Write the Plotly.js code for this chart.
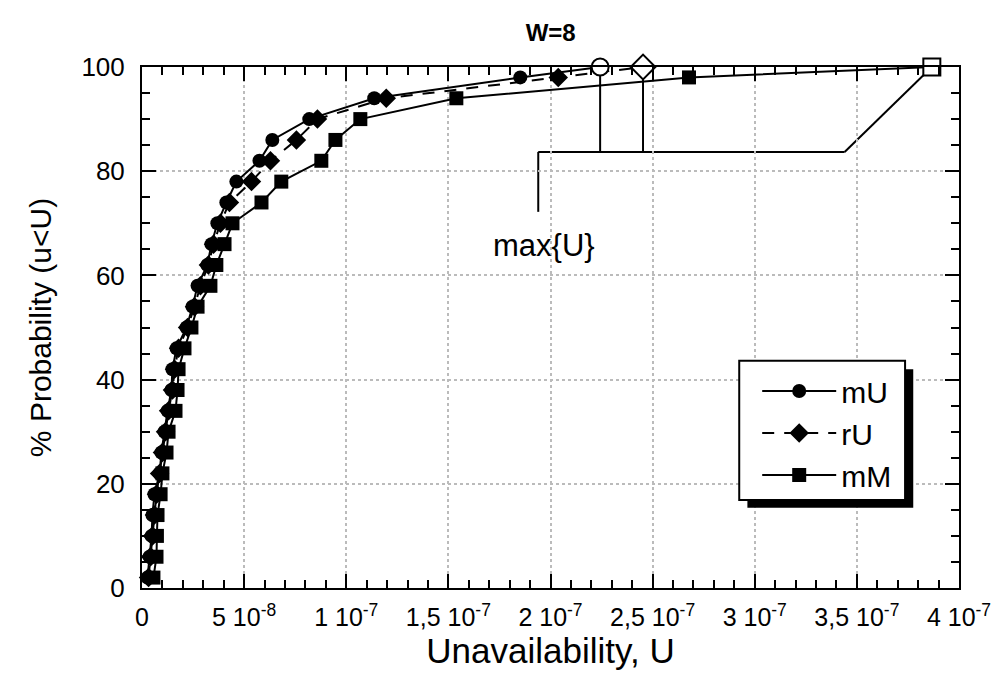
<!DOCTYPE html>
<html>
<head>
<meta charset="utf-8">
<script src="https://cdn.plot.ly/plotly-3.0.1.min.js"></script>
<style>
html,body{margin:0;padding:0;background:#fff;}
#chart{width:994px;height:673px;}
</style>
</head>
<body>
<div id="chart"></div>
<script>
// Cumulative probability levels (%) of the sorted samples
var probLevels = [2,6,10,14,18,22,26,30,34,38,42,46,50,54,58,62,66,70,74,78,82,86,90,94,98];
// Unavailability values (units of 1e-8)
var mU = [0.27,0.37,0.47,0.51,0.61,0.86,0.95,1.10,1.25,1.44,1.49,1.69,2.18,2.47,2.72,3.20,3.40,3.69,4.13,4.62,5.75,6.38,8.19,11.37,18.52];
var rU = [0.32,0.42,0.51,0.61,0.71,0.86,1.00,1.15,1.30,1.49,1.59,1.79,2.23,2.57,2.86,3.25,3.50,3.84,4.28,5.36,6.29,7.56,8.59,11.96,20.38];
var mM = [0.56,0.71,0.73,0.76,0.91,1.00,1.20,1.30,1.64,1.74,1.79,2.08,2.42,2.72,3.35,3.64,4.04,4.43,5.85,6.82,8.78,9.47,10.69,15.39,26.78];
// max{U} of each series (units of 1e-8), plotted at 100 %
var maxU = {mU: 22.43, rU: 24.53, mM: 38.67};
var maxProb = 100;
// x-axis tick labels
var xTickVals = [0,5,10,15,20,25,30,35,40];
var xTickText = ['0','5 10<sup>-8</sup>','1 10<sup>-7</sup>','1,5 10<sup>-7</sup>','2 10<sup>-7</sup>','2,5 10<sup>-7</sup>','3 10<sup>-7</sup>','3,5 10<sup>-7</sup>','4 10<sup>-7</sup>'];
var yTickVals = [0,20,40,60,80,100];
// bracket of the max{U} note
var bracketY = 83.7, bracketLeft = 19.4, bracketRight = 34.4, bracketStem = 72.2;
var noteX = 19.7, noteY = 65.8;

var S = 1e-8;
function sc(a){ return a.map(function(v){ return v*S; }); }
function withMax(a, m){ return sc(a.concat([m])); }
var yAll = probLevels.concat([maxProb]);

var FONT = 'Liberation Sans, Arial, sans-serif';
var NARROW = 'Liberation Sans Narrow, Arial Narrow, Liberation Sans, sans-serif';

var traces = [
  {name:'mU', x: withMax(mU, maxU.mU), y: yAll, mode:'lines+markers', legendgroup:'a', cliponaxis:false,
   line:{color:'#000', width:2}, marker:{symbol:'circle', size:14, color:'#000'}},
  {name:'rU', x: withMax(rU, maxU.rU), y: yAll, mode:'lines+markers', legendgroup:'b', cliponaxis:false,
   line:{color:'#000', width:2, dash:'12px,10px'}, marker:{symbol:'diamond', size:15, color:'#000'}},
  {name:'mM', x: withMax(mM, maxU.mM), y: yAll, mode:'lines+markers', legendgroup:'c', cliponaxis:false,
   line:{color:'#000', width:2}, marker:{symbol:'square', size:14, color:'#000'}},
  {x:[maxU.mU*S], y:[maxProb], mode:'markers', showlegend:false, cliponaxis:false,
   marker:{symbol:'circle', size:17, color:'#fff', line:{color:'#000', width:2}}},
  {x:[maxU.rU*S], y:[maxProb], mode:'markers', showlegend:false, cliponaxis:false,
   marker:{symbol:'diamond', size:19, color:'#fff', line:{color:'#000', width:2}}},
  {x:[maxU.mM*S], y:[maxProb], mode:'markers', showlegend:false, cliponaxis:false,
   marker:{symbol:'square', size:17, color:'#fff', line:{color:'#000', width:2}}}
];

var ln = {color:'#000', width:2};
var shapes = [
  // legend shadow and box
  {type:'rect', xref:'paper', yref:'paper', x0:0.741, x1:0.944, y0:0.154, y1:0.420, fillcolor:'#000', line:{width:0}, layer:'above'},
  {type:'rect', xref:'paper', yref:'paper', x0:0.731, x1:0.934, y0:0.169, y1:0.436, fillcolor:'#fff', line:{color:'#000', width:2}, layer:'above'},
  // max{U} bracket
  {type:'line', x0:maxU.mU*S, x1:maxU.mU*S, y0:maxProb, y1:bracketY, line:ln, layer:'below'},
  {type:'line', x0:maxU.rU*S, x1:maxU.rU*S, y0:maxProb, y1:bracketY, line:ln, layer:'below'},
  {type:'line', x0:bracketLeft*S, x1:bracketRight*S, y0:bracketY, y1:bracketY, line:ln, layer:'below'},
  {type:'line', x0:bracketRight*S, x1:maxU.mM*S, y0:bracketY, y1:maxProb, line:ln, layer:'below'},
  {type:'line', x0:bracketLeft*S, x1:bracketLeft*S, y0:bracketY, y1:bracketStem, line:ln, layer:'below'}
];

var layout = {
  width:994, height:673,
  margin:{l:142, r:35, t:67, b:85},
  paper_bgcolor:'#fff', plot_bgcolor:'#fff',
  font:{family:FONT, color:'#000', size:20},
  title:{text:'<b>W=8</b>', x:0.554, xanchor:'center', y:0.952, yanchor:'middle', font:{size:24, family:FONT}},
  xaxis:{range:[0, 4e-7], tickvals: xTickVals.map(function(v){return v*S;}), ticktext: xTickText,
    ticks:'inside', ticklen:14, tickwidth:2, tickcolor:'#000',
    showline:true, linecolor:'#000', linewidth:2, mirror:'ticks',
    showgrid:true, gridcolor:'#bbb', gridwidth:2, griddash:'3px,3px',
    zeroline:false, tickfont:{size:25, family:NARROW}, ticklabelstandoff:6,
    minor:{dtick:1e-8, ticks:'inside', ticklen:8, tickwidth:2, tickcolor:'#000', showgrid:false},
    title:{text:'Unavailability, U', font:{size:35}, standoff:7}},
  yaxis:{range:[0,100], tickvals:yTickVals,
    ticks:'inside', ticklen:14, tickwidth:2, tickcolor:'#000',
    showline:true, linecolor:'#000', linewidth:2, mirror:'ticks',
    showgrid:true, gridcolor:'#bbb', gridwidth:2, griddash:'3px,3px',
    zeroline:false, tickfont:{size:26}, ticklabelstandoff:10,
    minor:{dtick:5, ticks:'inside', ticklen:8, tickwidth:2, tickcolor:'#000', showgrid:false},
    title:{text:'% Probability (u<U)', font:{size:30}, standoff:21}},
  legend:{x:0.753, y:0.428, xanchor:'left', yanchor:'top', bgcolor:'rgba(0,0,0,0)', borderwidth:0,
    font:{size:30, family:NARROW}, traceorder:'grouped', tracegroupgap:0, itemwidth:74},
  showlegend:true,
  shapes:shapes,
  annotations:[{x:noteX*S, y:noteY, text:'max{U}', showarrow:false, xanchor:'center', yanchor:'middle', font:{size:31}}]
};

Plotly.newPlot('chart', traces, layout, {displayModeBar:false, staticPlot:true});
</script>
</body>
</html>
